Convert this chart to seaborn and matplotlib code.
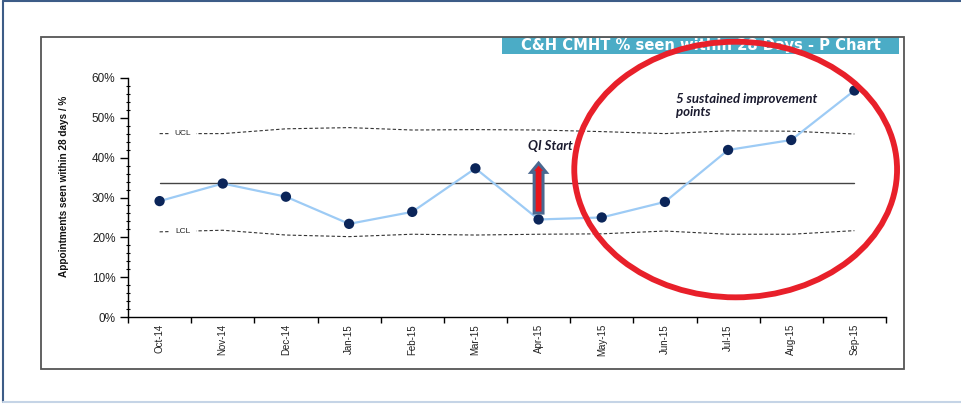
import matplotlib
matplotlib.use("Agg")
import matplotlib.pyplot as plt
import seaborn as sns
import pandas as pd
import numpy as np
from matplotlib import font_manager
from matplotlib.patches import Ellipse, FancyArrow, Rectangle
from matplotlib.lines import Line2D
from matplotlib.ticker import MultipleLocator, FuncFormatter, FixedLocator

sns.set_style("ticks")
plt.rcParams['font.family'] = ['Liberation Sans', 'DejaVu Sans']

available = {f.name for f in font_manager.fontManager.ttflist}
narrow = 'Liberation Sans Narrow' if 'Liberation Sans Narrow' in available else 'Liberation Sans'
note_font = 'Lato' if 'Lato' in available else 'DejaVu Sans'

# data
months = ['Oct-14', 'Nov-14', 'Dec-14', 'Jan-15', 'Feb-15', 'Mar-15',
          'Apr-15', 'May-15', 'Jun-15', 'Jul-15', 'Aug-15', 'Sep-15']
pct_seen = [29.1, 33.5, 30.2, 23.4, 26.4, 37.3, 24.5, 25.0, 28.9, 41.9, 44.4, 56.8]
centre_line = 33.7
ucl = [46.0, 46.0, 47.2, 47.5, 46.9, 47.0, 46.9, 46.5, 46.0, 46.7, 46.6, 45.9]
lcl = [21.4, 21.8, 20.6, 20.2, 20.8, 20.6, 20.8, 20.9, 21.6, 20.8, 20.8, 21.7]

title = "C&H CMHT % seen within 28 Days - P Chart"
ylabel = "Appointments seen within 28 days / %"
qi_month = 'Apr-15'

df = pd.DataFrame({'month': months, 'pct': pct_seen, 'ucl': ucl, 'lcl': lcl})
df['centre'] = centre_line
df['pos'] = np.arange(len(df))

W, H = 961, 404
fig = plt.figure(figsize=(W / 100, H / 100), dpi=100)
ax = fig.add_axes([128 / W, 1 - 317.3 / H, (886 - 128) / W, (317.3 - 77.7) / H])

# control limits + centre line
for col in ['ucl', 'lcl']:
    sns.lineplot(data=df, x='pos', y=col, ax=ax, color='#333333', lw=0.8,
                 linestyle=(0, (3, 2)), sort=False, errorbar=None, zorder=2)
sns.lineplot(data=df, x='pos', y='centre', ax=ax, color='#444444', lw=1.0,
             sort=False, errorbar=None, zorder=2)

# the measure
sns.lineplot(data=df, x='pos', y='pct', ax=ax, color='#9DCBF5', lw=1.6,
             sort=False, errorbar=None, zorder=3)
sns.scatterplot(data=df, x='pos', y='pct', ax=ax, color='#0B2559', s=55,
                edgecolor='none', zorder=4)

for col, lab in [('ucl', 'UCL'), ('lcl', 'LCL')]:
    ax.text(0.37, df[col].iloc[0], lab, fontsize=6, ha='center', va='center',
            color='#222222', zorder=3,
            bbox=dict(fc='white', ec='none', boxstyle='square,pad=0.6'))

# axes styling
ax.set_xlim(-0.5, len(months) - 0.5)
ax.set_ylim(0, 60)
ax.set_xticks(df['pos'])
ax.set_xticklabels(months, rotation=90, fontsize=7, color='#222222')
ax.xaxis.set_minor_locator(FixedLocator(np.arange(-0.5, len(months), 1)))
ax.tick_params(axis='x', which='major', length=0, pad=5)
ax.tick_params(axis='x', which='minor', length=4, width=1, direction='out', color='black')
ax.yaxis.set_major_locator(MultipleLocator(10))
ax.yaxis.set_minor_locator(MultipleLocator(2))
ax.yaxis.set_major_formatter(FuncFormatter(lambda v, p: f"{v:.0f}%"))
ax.tick_params(axis='y', which='major', length=6, width=1, direction='out',
               labelsize=8.5, pad=3, color='black', labelcolor='#222222')
ax.tick_params(axis='y', which='minor', length=3, width=0.8, direction='inout', color='black')
ax.set_xlabel('')
ax.set_ylabel('')
sns.despine(ax=ax)
for s in ['left', 'bottom']:
    ax.spines[s].set_color('black')
    ax.spines[s].set_linewidth(1)

# QI start arrow and notes
qi = months.index(qi_month)
ax.add_patch(FancyArrow(qi, 26.1, 0, 12.5, width=0.14, head_width=0.24,
                        head_length=2.3, length_includes_head=True,
                        fc='#E8141C', ec='#4A6890', lw=2.2, zorder=5))
ax.text(5.84, 42.8, "QI Start", family=note_font, fontweight='bold', style='italic',
        fontsize=9.5, color='#1a1a2e', ha='left', va='center', zorder=5)
ax.text(8.18, 53.1, "5 sustained improvement\npoints", family=note_font,
        fontweight='bold', style='italic', fontsize=9.5, color='#1a1a2e',
        ha='left', va='center', linespacing=1.1, zorder=5)

ax.add_patch(Ellipse((9.12, 37.0), 5.11, 64.0, fill=False, ec='#E8202A', lw=4.2,
                     clip_on=False, zorder=6))

# y label
fig.text(64 / W, 1 - 186 / H, ylabel, rotation=90, ha='center', va='center',
         family=narrow, fontweight='bold', fontsize=7.2, color='#111111')

# title box (drawn beneath the axes so the red ring crosses it)
fig.add_artist(Rectangle((502 / W, 1 - 54 / H), 397 / W, 17 / H, transform=fig.transFigure,
                         fc='#4BACC6', ec='none', zorder=-2))
fig.text(700.5 / W, 1 - 45.5 / H, title, ha='center', va='center', color='white',
         family='DejaVu Sans', fontweight='bold', fontsize=10.6, zorder=-1)
ax.patch.set_visible(False)

# chart frame and outer border
fig.add_artist(Rectangle((41 / W, 1 - 369 / H), (904 - 41) / W, (369 - 37) / H,
                         transform=fig.transFigure, fill=False, ec='#555555', lw=1.3))
fig.add_artist(Line2D([3 / W, 3 / W], [1 - 402 / H, 1 - 1 / H], transform=fig.transFigure,
                      color='#3D5C87', lw=1.5))
fig.add_artist(Line2D([3 / W, 1], [1 - 1 / H, 1 - 1 / H], transform=fig.transFigure,
                      color='#3D5C87', lw=1.5))
fig.add_artist(Line2D([3 / W, 1], [1 - 402 / H, 1 - 402 / H], transform=fig.transFigure,
                      color='#C5D4E6', lw=1.5))

fig.savefig('out.png', dpi=100)
